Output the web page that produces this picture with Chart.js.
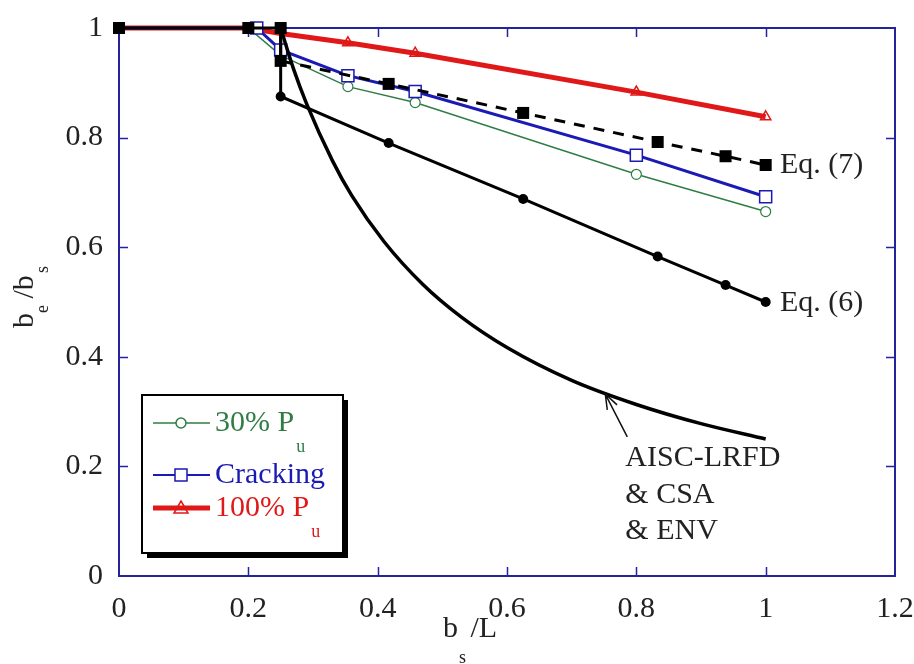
<!DOCTYPE html>
<html>
<head>
<meta charset="utf-8">
<script src="https://cdn.jsdelivr.net/npm/chart.js@4.4.0/dist/chart.umd.min.js"></script>
<style>
  html, body { margin: 0; padding: 0; background: #fff; }
</style>
</head>
<body>
<canvas id="myChart" width="914" height="664"></canvas>
<script>
// оси
const xTickLabels = ['0', '0.2', '0.4', '0.6', '0.8', '1', '1.2']
const yTickLabels = ['0', '0.2', '0.4', '0.6', '0.8', '1']

// 30% Pu
const p30X = [0, 0.2, 0.25, 0.354, 0.458, 0.8, 1]
const p30Y = [1, 1, 0.95, 0.893, 0.864, 0.733, 0.665]
// Cracking
const crackX = [0, 0.213, 0.25, 0.354, 0.458, 0.8, 1]
const crackY = [1, 1, 0.96, 0.913, 0.884, 0.768, 0.692]
// 100% Pu
const p100X = [0, 0.2, 0.25, 0.354, 0.458, 0.8, 1]
const p100Y = [1, 1, 0.99, 0.973, 0.954, 0.883, 0.838]
// Eq. (7)
const eq7X = [0, 0.2, 0.25, 0.25, 0.417, 0.625, 0.833, 0.938, 1]
const eq7Y = [1, 1, 1, 0.94, 0.898, 0.845, 0.792, 0.766, 0.75]
// Eq. (6)
const eq6X = [0.25, 0.25, 0.417, 0.625, 0.833, 0.938, 1]
const eq6Y = [1, 0.875, 0.79, 0.688, 0.583, 0.531, 0.5]
// AISC-LRFD & CSA & ENV
const aiscX = [0.25, 0.27, 0.29, 0.33, 0.36, 0.41, 0.47, 0.53, 0.6, 0.7, 0.8, 0.9, 1]
const aiscY = [1, 0.925, 0.862, 0.758, 0.694, 0.61, 0.532, 0.472, 0.417, 0.357, 0.313, 0.278, 0.25]

// подписи
const legendNames = ['30% P', 'Cracking', '100% P']
const legendSubs = ['u', '', 'u']
const eqLabels = ['Eq. (7)', 'Eq. (6)']
const eqLabelAt = [[1.022, 0.75], [1.022, 0.498]]
const codeLabels = ['AISC-LRFD', '& CSA', '& ENV']
const codeLabelAt = [[0.783, 0.215], [0.783, 0.148], [0.783, 0.082]]
const arrowFrom = [0.786, 0.254]
const arrowTo = [0.752, 0.332]

const FONT = "'Liberation Serif', 'Times New Roman', serif"
const AXIS = '#24249a'
const GREEN = '#2f7d45'
const BLUE = '#1a1ab4'
const RED = '#e01818'

const pts = (xs, ys) => xs.map((x, i) => ({ x: x, y: ys[i] }))

const drawSub = (ctx, x, y, main, sub, size, subSize, drop) => {
  ctx.font = size + 'px ' + FONT
  ctx.fillText(main, x, y)
  const w = ctx.measureText(main).width
  if (sub) {
    ctx.font = subSize + 'px ' + FONT
    ctx.fillText(sub, x + w + 2, y + drop)
  }
}

const extras = {
  id: 'extras',
  beforeDatasetsDraw(chart) {
    const { ctx, chartArea: a, scales } = chart
    ctx.save()
    ctx.strokeStyle = AXIS
    ctx.lineWidth = 2
    ctx.strokeRect(a.left, a.top, a.right - a.left, a.bottom - a.top)
    ctx.lineWidth = 1.5
    ctx.beginPath()
    for (let i = 1; i < xTickLabels.length - 1; i++) {
      const px = Math.round(scales.x.getPixelForValue(i * 0.2)) + 0.5
      ctx.moveTo(px, a.bottom); ctx.lineTo(px, a.bottom - 9)
      ctx.moveTo(px, a.top); ctx.lineTo(px, a.top + 9)
    }
    for (let i = 1; i < yTickLabels.length - 1; i++) {
      const py = Math.round(scales.y.getPixelForValue(i * 0.2)) + 0.5
      ctx.moveTo(a.left, py); ctx.lineTo(a.left + 9, py)
      ctx.moveTo(a.right, py); ctx.lineTo(a.right - 9, py)
    }
    ctx.stroke()
    ctx.restore()
  },
  afterDraw(chart) {
    const { ctx, scales } = chart
    const sx = v => scales.x.getPixelForValue(v)
    const sy = v => scales.y.getPixelForValue(v)
    ctx.save()
    ctx.fillStyle = '#222'
    ctx.textBaseline = 'middle'
    ctx.textAlign = 'left'
    ctx.font = '30px ' + FONT
    eqLabels.forEach((t, i) => ctx.fillText(t, sx(eqLabelAt[i][0]), sy(eqLabelAt[i][1])))
    codeLabels.forEach((t, i) => ctx.fillText(t, sx(codeLabelAt[i][0]), sy(codeLabelAt[i][1])))

    // стрелка
    const x1 = sx(arrowFrom[0]), y1 = sy(arrowFrom[1])
    const x2 = sx(arrowTo[0]), y2 = sy(arrowTo[1])
    const ang = Math.atan2(y1 - y2, x1 - x2)
    ctx.strokeStyle = '#111'
    ctx.lineWidth = 1.5
    ctx.beginPath()
    ctx.moveTo(x1, y1); ctx.lineTo(x2, y2)
    ctx.moveTo(x2 + 16 * Math.cos(ang - 0.35), y2 + 16 * Math.sin(ang - 0.35)); ctx.lineTo(x2, y2)
    ctx.lineTo(x2 + 16 * Math.cos(ang + 0.35), y2 + 16 * Math.sin(ang + 0.35))
    ctx.stroke()

    // подписи осей
    ctx.textBaseline = 'alphabetic'
    ctx.fillStyle = '#222'
    ctx.font = '30px ' + FONT
    ctx.fillText('b', 443, 637)
    ctx.font = '18px ' + FONT
    ctx.fillText('s', 459, 663)
    ctx.font = '30px ' + FONT
    ctx.fillText(' /L', 463, 637)

    ctx.save()
    ctx.translate(33, 328)
    ctx.rotate(-Math.PI / 2)
    ctx.font = '30px ' + FONT
    ctx.fillText('b', 0, 0)
    ctx.font = '18px ' + FONT
    ctx.fillText('e', 15, 15)
    ctx.font = '30px ' + FONT
    ctx.fillText(' /b', 22, 0)
    ctx.font = '18px ' + FONT
    ctx.fillText('s', 55, 15)
    ctx.restore()

    // легенда
    const L = 142, T = 395, W = 201, H = 158
    ctx.fillStyle = '#000'
    ctx.fillRect(L + 5, T + 5, W, H)
    ctx.fillStyle = '#fff'
    ctx.fillRect(L, T, W, H)
    ctx.strokeStyle = '#000'
    ctx.lineWidth = 2
    ctx.strokeRect(L, T, W, H)
    const rowY = [423, 475, 508]
    const colors = [GREEN, BLUE, RED]
    const widths = [1.5, 2, 5]
    rowY.forEach((y, i) => {
      ctx.strokeStyle = colors[i]
      ctx.lineWidth = widths[i]
      ctx.beginPath(); ctx.moveTo(153, y); ctx.lineTo(210, y); ctx.stroke()
      ctx.lineWidth = 1.5
      ctx.fillStyle = '#fff'
      ctx.beginPath()
      if (i === 0) ctx.arc(181, y, 5, 0, Math.PI * 2)
      if (i === 1) ctx.rect(175, y - 6, 12, 12)
      if (i === 2) { ctx.moveTo(181, y - 7); ctx.lineTo(188, y + 5); ctx.lineTo(174, y + 5); ctx.closePath() }
      if (i !== 2) ctx.fill()
      ctx.stroke()
      ctx.fillStyle = colors[i]
      ctx.textBaseline = 'middle'
      drawSub(ctx, 215, y, legendNames[i], legendSubs[i], 30, 18, 24)
    })
    ctx.restore()
  }
}

const createChart = () => {
  const ctx = document.getElementById('myChart')
  new Chart(ctx, {
    type: 'scatter',
    data: {
      datasets: [
        {
          label: 'Eq. (7)', data: pts(eq7X, eq7Y), showLine: true, clip: false,
          borderColor: '#000', backgroundColor: '#000', borderWidth: 3,
          pointStyle: 'rect', pointRadius: 8.5, pointBorderWidth: 0,
          segment: { borderDash: c => c.p0DataIndex >= 3 ? [11, 9] : undefined }
        },
        {
          label: 'Eq. (6)', data: pts(eq6X, eq6Y), showLine: true, clip: false,
          borderColor: '#000', backgroundColor: '#000', borderWidth: 3,
          pointStyle: 'circle', pointRadius: [0, 5, 5, 5, 5, 5, 5], pointBorderWidth: 0
        },
        {
          label: 'AISC-LRFD', data: pts(aiscX, aiscY), showLine: true, clip: false,
          borderColor: '#000', borderWidth: 3.5, pointRadius: 0,
          cubicInterpolationMode: 'monotone'
        },
        {
          label: 'Cracking', data: pts(crackX, crackY), showLine: true, clip: false,
          borderColor: BLUE, backgroundColor: '#fff', borderWidth: 3,
          pointStyle: 'rect', pointRadius: [0, 8.5, 8.5, 8.5, 8.5, 8.5, 8.5], pointBorderWidth: 1.5
        },
        {
          label: '30% Pu', data: pts(p30X, p30Y), showLine: true, clip: false,
          borderColor: GREEN, backgroundColor: '#fff', borderWidth: 1.5,
          pointStyle: 'circle', pointRadius: [0, 5, 5, 5, 5, 5, 5], pointBorderWidth: 1.2
        },
        {
          label: '100% Pu', data: pts(p100X, p100Y), showLine: true, clip: false,
          borderColor: RED, backgroundColor: 'rgba(255,255,255,0)', borderWidth: 5,
          pointStyle: 'triangle', pointRadius: [0, 0, 0, 6, 6, 6, 6], pointBorderWidth: 1.5
        }
      ]
    },
    options: {
      responsive: false,
      animation: false,
      layout: { padding: { top: 28, right: 19, left: 0, bottom: 0 } },
      plugins: { legend: { display: false }, tooltip: { enabled: false } },
      scales: {
        x: {
          type: 'linear', min: 0, max: 1.2,
          grid: { display: false, drawTicks: false }, border: { display: false },
          ticks: {
            stepSize: 0.2, padding: 15, color: '#222', font: { family: FONT, size: 30 },
            maxRotation: 0, autoSkip: false,
            callback: (v, i) => xTickLabels[i]
          },
          afterFit: s => { s.height = 88; s.paddingLeft = 0; s.paddingRight = 0 }
        },
        y: {
          type: 'linear', min: 0, max: 1,
          grid: { display: false, drawTicks: false }, border: { display: false },
          ticks: {
            stepSize: 0.2, padding: 16, color: '#222', font: { family: FONT, size: 30 },
            callback: (v, i) => yTickLabels[i]
          },
          afterFit: s => { s.width = 119; s.paddingTop = 0; s.paddingBottom = 0 }
        }
      }
    },
    plugins: [extras]
  })
}

createChart()
</script>
</body>
</html>
